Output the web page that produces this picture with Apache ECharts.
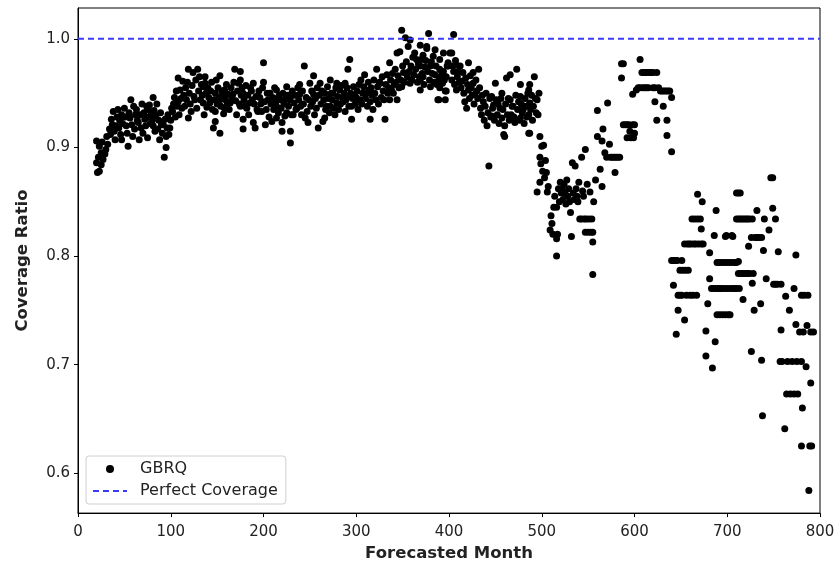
<!DOCTYPE html>
<html>
<head>
<meta charset="utf-8">
<script src="https://cdn.jsdelivr.net/npm/echarts@6/dist/echarts.min.js"></script>
<style>html,body{margin:0;padding:0;background:#fff}#c{width:838px;height:567px}</style>
</head>
<body>
<div id="c"></div>
<script>
// [month, coverage ratio]
var seg1 = [[20,0.906],[20,0.886],[21,0.877],[22,0.891],[23,0.901],[23,0.878],[25,0.895],[25,0.884],[26,0.905],[27,0.889],[29,0.894],[30,0.898],[31,0.910],[32,0.903],[34,0.917],[35,0.912],[36,0.926],[37,0.921],[38,0.933],[39,0.915],[40,0.907],[41,0.920],[42,0.928],[43,0.935],[44,0.918],[45,0.925],[46,0.912],[47,0.930],[47,0.907],[48,0.922],[50,0.936],[51,0.928],[52,0.920],[53,0.913],[54,0.901],[55,0.932],[56,0.927],[57,0.944],[58,0.921],[59,0.910],[60,0.938],[61,0.917],[62,0.930],[63,0.935],[64,0.925],[65,0.923],[66,0.907],[67,0.930],[68,0.918],[69,0.940],[70,0.913],[71,0.932],[72,0.926],[73,0.920],[74,0.938],[75,0.935],[75,0.909],[76,0.928],[77,0.939],[78,0.922],[79,0.931],[80,0.925],[81,0.946],[81,0.920],[82,0.934],[83,0.915],[84,0.929],[85,0.940],[86,0.917],[87,0.925],[88,0.907],[89,0.932],[90,0.921],[91,0.913],[92,0.921],[93,0.891],[94,0.926],[95,0.910],[95,0.900],[96,0.918],[97,0.930],[98,0.912],[99,0.918],[100,0.925],[101,0.936],[102,0.933],[103,0.940],[104,0.946],[105,0.928],[106,0.952],[107,0.938],[108,0.942],[108,0.964],[109,0.930],[110,0.953],[111,0.945],[112,0.936],[113,0.961],[114,0.948],[115,0.938],[116,0.955],[117,0.944],[118,0.960],[119,0.972],[119,0.927],[120,0.950],[121,0.940],[122,0.933],[123,0.957],[124,0.969],[125,0.947],[126,0.944],[127,0.962],[128,0.936],[129,0.972],[130,0.952]];
var seg2 = [[131,0.965],[132,0.944],[133,0.958],[134,0.948],[135,0.941],[135,0.956],[136,0.930],[137,0.965],[137,0.959],[138,0.950],[139,0.937],[140,0.955],[141,0.946],[142,0.941],[143,0.952],[144,0.960],[145,0.935],[146,0.918],[147,0.944],[148,0.950],[148,0.933],[148,0.924],[149,0.962],[150,0.940],[151,0.955],[152,0.946],[153,0.966],[153,0.944],[153,0.913],[154,0.938],[155,0.952],[156,0.948],[157,0.931],[158,0.953],[158,0.936],[159,0.944],[160,0.958],[161,0.940],[162,0.949],[163,0.935],[164,0.941],[165,0.955],[166,0.946],[167,0.949],[168,0.960],[169,0.972],[170,0.943],[171,0.930],[172,0.952],[173,0.959],[174,0.940],[175,0.970],[175,0.962],[175,0.938],[176,0.948],[177,0.955],[178,0.950],[178,0.926],[178,0.917],[179,0.944],[180,0.938],[181,0.957],[182,0.936],[183,0.948],[184,0.930],[185,0.941],[186,0.955],[187,0.952],[188,0.944],[189,0.959],[189,0.923],[190,0.940],[191,0.918],[192,0.947],[193,0.935],[194,0.933],[195,0.952],[196,0.946],[197,0.940],[198,0.933],[199,0.955],[200,0.978],[200,0.960],[201,0.942],[202,0.921],[203,0.935],[204,0.950],[205,0.944],[206,0.928],[207,0.950],[208,0.940],[209,0.924],[210,0.946],[211,0.935],[212,0.955],[213,0.941],[214,0.953],[214,0.938],[214,0.927],[215,0.945],[216,0.932],[217,0.948],[218,0.944],[219,0.936],[220,0.923],[220,0.915],[221,0.950],[222,0.940],[223,0.929],[224,0.945],[225,0.956],[225,0.932],[226,0.948],[227,0.938],[228,0.944],[229,0.946],[229,0.915],[229,0.904],[230,0.930],[231,0.952],[232,0.930],[233,0.941],[234,0.948],[235,0.935],[236,0.936],[237,0.955],[238,0.944],[239,0.958],[239,0.949],[240,0.938],[241,0.930],[242,0.952],[243,0.940],[244,0.975],[245,0.927],[246,0.946],[247,0.933],[248,0.923],[249,0.944],[250,0.959],[251,0.938],[252,0.952],[253,0.942],[254,0.966],[254,0.949],[255,0.930],[256,0.945],[257,0.936],[258,0.955],[259,0.918],[260,0.948],[261,0.959],[262,0.940],[263,0.952],[264,0.924],[265,0.944],[266,0.950],[266,0.927],[267,0.935],[268,0.938],[269,0.956]];
var seg3 = [[270,0.945],[271,0.932],[272,0.962],[272,0.938],[273,0.950],[274,0.944],[275,0.950],[276,0.936],[277,0.930],[278,0.955],[279,0.959],[279,0.941],[280,0.947],[281,0.935],[282,0.953],[283,0.940],[284,0.957],[285,0.946],[286,0.942],[287,0.950],[288,0.959],[288,0.933],[289,0.944],[290,0.955],[291,0.972],[291,0.947],[292,0.938],[293,0.981],[294,0.950],[295,0.938],[295,0.926],[296,0.945],[297,0.956],[298,0.948],[299,0.940],[300,0.946],[301,0.952],[302,0.935],[303,0.958],[304,0.944],[305,0.962],[306,0.940],[307,0.950],[308,0.956],[309,0.967],[310,0.945],[311,0.950],[312,0.938],[313,0.960],[314,0.953],[315,0.942],[315,0.926],[316,0.955],[317,0.948],[318,0.935],[319,0.962],[320,0.950],[321,0.944],[322,0.972],[323,0.956],[324,0.940],[325,0.960],[326,0.959],[327,0.946],[328,0.965],[329,0.952],[330,0.944],[331,0.926],[332,0.958],[333,0.967],[334,0.950],[335,0.955],[336,0.978],[336,0.944],[337,0.962],[338,0.953],[339,0.968],[340,0.950],[341,0.958],[342,0.972],[343,0.960],[344,0.987],[344,0.944],[345,0.966],[346,0.955],[347,0.988],[348,0.962],[349,1.008],[349,0.956],[350,0.975],[351,0.969],[352,0.960],[353,1.001],[354,0.979],[355,0.965],[356,0.993],[357,0.970],[358,0.999],[358,0.959],[359,0.975],[360,0.962],[361,0.983],[362,0.967],[363,0.987],[364,0.972],[365,0.981],[366,0.960],[367,0.977],[368,0.965],[369,0.994],[369,0.975],[369,0.962],[369,0.953],[370,0.981],[371,0.968],[372,0.985],[372,0.965],[373,0.958],[374,0.974],[375,0.980],[376,0.993],[376,0.991],[377,0.970],[378,1.005],[379,0.962],[380,0.975],[380,0.956],[381,0.979],[382,0.968],[383,0.984],[384,0.960],[385,0.990],[385,0.967],[386,0.975],[387,0.958],[388,0.944],[389,0.962],[389,0.944],[390,0.972],[390,0.955],[390,0.981],[391,0.965],[392,0.970],[393,0.959],[394,0.987],[394,0.970],[395,0.962],[396,0.952],[396,0.944],[397,0.965],[397,0.952],[398,0.975],[399,0.978],[399,0.975]];
var seg4 = [[401,0.987],[403,0.987],[403,0.962],[404,0.975],[405,1.004],[405,0.970],[406,0.958],[407,0.980],[408,0.976],[408,0.953],[409,0.965],[410,0.970],[411,0.960],[412,0.975],[413,0.955],[414,0.961],[415,0.969],[416,0.950],[417,0.942],[418,0.964],[419,0.936],[420,0.958],[421,0.978],[421,0.953],[422,0.945],[423,0.966],[424,0.955],[425,0.948],[426,0.969],[426,0.959],[427,0.940],[428,0.949],[429,0.962],[430,0.952],[431,0.945],[432,0.972],[433,0.955],[434,0.936],[435,0.930],[436,0.948],[437,0.942],[438,0.925],[439,0.938],[440,0.950],[441,0.920],[442,0.932],[443,0.883],[444,0.945],[445,0.928],[446,0.947],[446,0.929],[447,0.936],[448,0.939],[449,0.925],[450,0.959],[451,0.944],[452,0.930],[453,0.940],[454,0.922],[455,0.936],[456,0.945],[457,0.950],[457,0.927],[458,0.935],[459,0.912],[460,0.920],[460,0.910],[461,0.940],[462,0.964],[463,0.930],[464,0.945],[465,0.925],[466,0.944],[466,0.967],[467,0.930],[468,0.938],[469,0.938],[470,0.928],[471,0.923],[472,0.948],[473,0.972],[474,0.935],[475,0.942],[476,0.925],[477,0.958],[477,0.947],[477,0.927],[478,0.940],[479,0.932],[480,0.935],[481,0.922],[482,0.945],[483,0.938],[484,0.928],[485,0.950],[486,0.953],[486,0.930],[486,0.913],[487,0.941],[487,0.958],[487,0.913],[488,0.935],[489,0.948],[490,0.925],[491,0.938],[492,0.965],[493,0.945],[494,0.932],[495,0.944],[495,0.859],[496,0.930],[497,0.950],[498,0.910],[498,0.891],[498,0.868],[499,0.885],[500,0.901],[501,0.878],[502,0.902],[503,0.872],[504,0.888],[505,0.877],[506,0.859],[507,0.864],[509,0.824],[510,0.837],[511,0.830],[512,0.820],[513,0.845],[514,0.855],[516,0.845],[516,0.816],[516,0.800],[517,0.820],[518,0.862],[519,0.850]];
var seg5 = [[520,0.868],[521,0.858],[522,0.862],[523,0.852],[524,0.866],[525,0.858],[526,0.848],[527,0.870],[528,0.855],[529,0.862],[530,0.850],[531,0.840],[532,0.818],[533,0.886],[534,0.858],[535,0.852],[536,0.883],[537,0.862],[538,0.855],[539,0.850],[540,0.868],[541,0.834],[543,0.891],[543,0.834],[544,0.860],[545,0.855],[546,0.834],[547,0.898],[547,0.822],[548,0.834],[549,0.866],[550,0.822],[551,0.834],[552,0.859],[553,0.822],[554,0.834],[555,0.813],[555,0.822],[555,0.783],[556,0.850],[558,0.870],[560,0.934],[560,0.910],[563,0.880],[565,0.906],[565,0.864],[566,0.917],[568,0.895],[570,0.891],[571,0.941],[573,0.903],[574,0.891],[576,0.891],[578,0.891],[579,0.877],[580,0.891],[582,0.891],[584,0.891],[586,0.977],[586,0.964],[588,0.977],[588,0.921],[590,0.921],[592,0.921],[592,0.909],[594,0.921],[595,0.915],[596,0.909],[598,0.949],[598,0.921],[599,0.909],[600,0.921],[600,0.913],[602,0.953],[604,0.955],[606,0.981],[606,0.955],[608,0.969],[609,0.955],[610,0.969],[611,0.955],[612,0.969],[613,0.955],[614,0.969],[615,0.955],[616,0.969],[618,0.969],[620,0.955],[620,0.969],[622,0.942],[622,0.955],[624,0.969],[624,0.925],[626,0.955],[628,0.952],[630,0.952],[631,0.938],[632,0.952],[634,0.952],[635,0.925],[635,0.911],[636,0.952],[638,0.952],[640,0.946],[640,0.896]];
var seg6 = [[640,0.796],[642,0.796],[642,0.773],[644,0.796],[645,0.728],[646,0.796],[647,0.764],[647,0.750],[649,0.787],[649,0.764],[651,0.796],[651,0.764],[652,0.787],[654,0.811],[654,0.741],[655,0.787],[656,0.764],[657,0.811],[658,0.787],[659,0.811],[660,0.764],[661,0.811],[662,0.834],[663,0.764],[664,0.811],[665,0.834],[666,0.811],[667,0.764],[668,0.857],[668,0.834],[669,0.811],[671,0.834],[672,0.825],[672,0.811],[673,0.850],[674,0.811],[677,0.731],[677,0.708],[679,0.756],[681,0.803],[681,0.779],[683,0.770],[684,0.697],[685,0.770],[686,0.819],[687,0.721],[688,0.842],[688,0.770],[689,0.794],[689,0.746],[690,0.770],[691,0.794],[692,0.770],[692,0.746],[693,0.794],[694,0.770],[695,0.746],[696,0.794],[697,0.770],[698,0.818],[698,0.746],[699,0.794],[699,0.819],[700,0.770],[701,0.746],[702,0.794],[703,0.770],[703,0.746],[705,0.819],[705,0.794],[706,0.818],[706,0.770],[708,0.794],[708,0.770],[710,0.858],[710,0.834],[710,0.794],[710,0.770],[712,0.858],[712,0.834],[712,0.795],[712,0.784],[713,0.770],[714,0.858],[714,0.834],[714,0.784],[716,0.834],[716,0.784],[717,0.760],[718,0.834],[718,0.784],[720,0.834],[720,0.784],[722,0.834],[722,0.784],[723,0.809],[724,0.834],[724,0.784],[726,0.817],[726,0.712],[727,0.834],[727,0.775],[728,0.784],[729,0.750],[730,0.817],[732,0.842],[732,0.817],[734,0.817],[736,0.756],[737,0.817],[737,0.704],[738,0.653],[739,0.805],[740,0.834],[742,0.779],[745,0.824],[747,0.872],[749,0.872],[749,0.844],[750,0.774],[752,0.834],[752,0.774],[754,0.774],[755,0.804],[757,0.703],[758,0.774],[758,0.732],[759,0.703],[762,0.641],[763,0.763],[764,0.673],[765,0.703],[767,0.750],[768,0.673],[770,0.703],[772,0.770],[772,0.673],[774,0.801],[774,0.737],[775,0.703],[776,0.673],[778,0.730],[780,0.764],[780,0.703],[780,0.625],[781,0.660],[782,0.730],[783,0.764],[785,0.698],[786,0.736],[787,0.764],[788,0.584],[789,0.625],[790,0.730],[790,0.683],[791,0.625],[793,0.730]];
var perfectLine = [[0,1.0],[800,1.0]];
var yTicks = [0.6, 0.7, 0.8, 0.9, 1.0];

var gbrq = [].concat(seg1, seg2, seg3, seg4, seg5, seg6);
var FONT = 'DejaVu Sans';
var chart = echarts.init(document.getElementById('c'), null, {renderer: 'canvas'});
chart.setOption({
  animation: false,
  backgroundColor: '#fff',
  textStyle: {fontFamily: FONT},
  grid: {left: 78, right: 18, top: 8, bottom: 52, show: true, borderColor: '#000', borderWidth: 1, backgroundColor: 'transparent'},
  xAxis: {
    type: 'value', min: 0, max: 800, interval: 100,
    name: 'Forecasted Month', nameLocation: 'middle', nameGap: 31,
    nameTextStyle: {fontFamily: FONT, fontWeight: 'bold', fontSize: 16.5, color: '#222'},
    axisLine: {show: true, lineStyle: {color: '#000', width: 1}},
    axisTick: {show: true, length: 4, lineStyle: {color: '#000'}},
    axisLabel: {fontFamily: FONT, fontSize: 15, color: '#222', margin: 12},
    splitLine: {show: false}
  },
  yAxis: {
    type: 'value', min: 0.5633, max: 1.0284,
    name: 'Coverage Ratio', nameLocation: 'middle', nameGap: 47,
    nameTextStyle: {fontFamily: FONT, fontWeight: 'bold', fontSize: 16.5, color: '#222'},
    axisLine: {show: true, lineStyle: {color: '#000', width: 1}},
    axisTick: {show: true, length: 4, lineStyle: {color: '#000'}, customValues: yTicks},
    axisLabel: {fontFamily: FONT, fontSize: 15, color: '#222', margin: 8, customValues: yTicks,
      formatter: function (v) { return v.toFixed(1); }},
    splitLine: {show: false}
  },
  legend: {
    orient: 'vertical', left: 86, top: 456,
    backgroundColor: '#fff', borderColor: '#d0d0d0', borderWidth: 1, borderRadius: 3,
    padding: [5, 8, 5, 6], itemGap: 6, itemWidth: 34, itemHeight: 8,
    textStyle: {fontFamily: FONT, fontSize: 16, color: '#222', padding: [0, 0, 0, 8]},
    data: [
      {name: 'GBRQ', icon: 'circle'},
      {name: 'Perfect Coverage', itemStyle: {opacity: 0}}
    ]
  },
  series: [
    {
      name: 'GBRQ', type: 'scatter', data: gbrq, symbol: 'circle', symbolSize: 7,
      itemStyle: {color: '#000', opacity: 1}, z: 3
    },
    {
      name: 'Perfect Coverage', type: 'line', data: perfectLine, symbol: 'none', showSymbol: false,
      lineStyle: {color: '#3a3aff', width: 2, type: [6, 4]}, itemStyle: {color: '#3a3aff'}, z: 4
    }
  ]
});
</script>
</body>
</html>
